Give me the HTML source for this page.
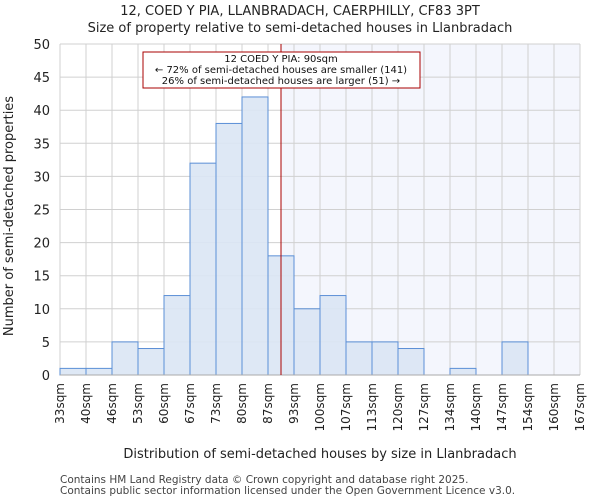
<!DOCTYPE html>
<html><head><meta charset="utf-8"><style>
body{margin:0;background:#fff;font-family:"DejaVu Sans","Liberation Sans",sans-serif;}
</style></head><body>
<svg width="600" height="500" xmlns="http://www.w3.org/2000/svg" font-family="DejaVu Sans, Liberation Sans, sans-serif">
<text x="300" y="15" text-anchor="middle" font-size="13" fill="#222">12, COED Y PIA, LLANBRADACH, CAERPHILLY, CF83 3PT</text>
<text x="300" y="32" text-anchor="middle" font-size="13" fill="#222">Size of property relative to semi-detached houses in Llanbradach</text>
<g id="plot"></g>
<text x="320" y="458" text-anchor="middle" font-size="13" fill="#222">Distribution of semi-detached houses by size in Llanbradach</text>
<text transform="translate(13,216) rotate(-90)" text-anchor="middle" font-size="13" fill="#222">Number of semi-detached properties</text>
<text x="60" y="483" font-size="10.5" fill="#444">Contains HM Land Registry data © Crown copyright and database right 2025.</text>
<text x="60" y="494" font-size="10.5" fill="#444">Contains public sector information licensed under the Open Government Licence v3.0.</text>
</svg>
<script>
const labels=["33sqm","40sqm","46sqm","53sqm","60sqm","67sqm","73sqm","80sqm","87sqm","93sqm","100sqm","107sqm","113sqm","120sqm","127sqm","134sqm","140sqm","147sqm","154sqm","160sqm","167sqm"];
const counts=[1,1,5,4,12,32,38,42,18,10,12,5,5,4,0,1,0,5,0,0];
const yTicks=[0,5,10,15,20,25,30,35,40,45,50];
const propertyBin=8.5;
const ns="http://www.w3.org/2000/svg";
const g=document.getElementById('plot');
const x0=60,x1=580,yb=375,yt=44,ymax=50;
const bw=(x1-x0)/counts.length;
const X=i=>x0+i*bw;
const Y=v=>yb-(v/ymax)*(yb-yt);
function mk(t,a){const e=document.createElementNS(ns,t);for(const k in a)e.setAttribute(k,a[k]);g.appendChild(e);return e;}
let s=mk('rect',{x:X(propertyBin),y:yt,width:x1-X(propertyBin),height:yb-yt,fill:'#f4f6fd'});


yTicks.forEach(v=>{
 let l=mk('line',{x1:x0,x2:x1,y1:Y(v),y2:Y(v),stroke:'#d0d0d0','stroke-width':1});
 
 
 let t=mk('text',{x:x0-10,y:Y(v)+5,'text-anchor':'end','font-size':13,fill:'#222'});t.textContent=v;
 
 
});
labels.forEach((lb,i)=>{
 let l=mk('line',{x1:X(i),x2:X(i),y1:yt,y2:yb,stroke:'#d0d0d0','stroke-width':1});
 
 
 let t=mk('text',{transform:`translate(${X(i)+4},${yb+8}) rotate(-90)`,'text-anchor':'end','font-size':12,fill:'#222'});t.textContent=lb;
 
 
});
counts.forEach((c,i)=>{
 if(c<=0)return;
 let r=mk('rect',{x:X(i),y:Y(c),width:bw,height:yb-Y(c),fill:'#dae5f4',stroke:'#5b8fd6','stroke-width':1,'fill-opacity':0.9});
 
 
});
let ax=mk('line',{x1:x0,x2:x1,y1:yb,y2:yb,stroke:'#aaa'});


let pl=mk('line',{x1:X(propertyBin),x2:X(propertyBin),y1:yt,y2:yb,stroke:'#aa0000','stroke-width':1});


let box=mk('rect',{x:143,y:52,width:277,height:36,fill:'#fff',stroke:'#aa0000','stroke-width':1});


["12 COED Y PIA: 90sqm","← 72% of semi-detached houses are smaller (141)","26% of semi-detached houses are larger (51) →"].forEach((tx,i)=>{
 let t=mk('text',{x:281,y:62+i*11,'text-anchor':'middle','font-size':10,fill:'#111'});t.textContent=tx;
 
 
});
</script>
</body></html>
